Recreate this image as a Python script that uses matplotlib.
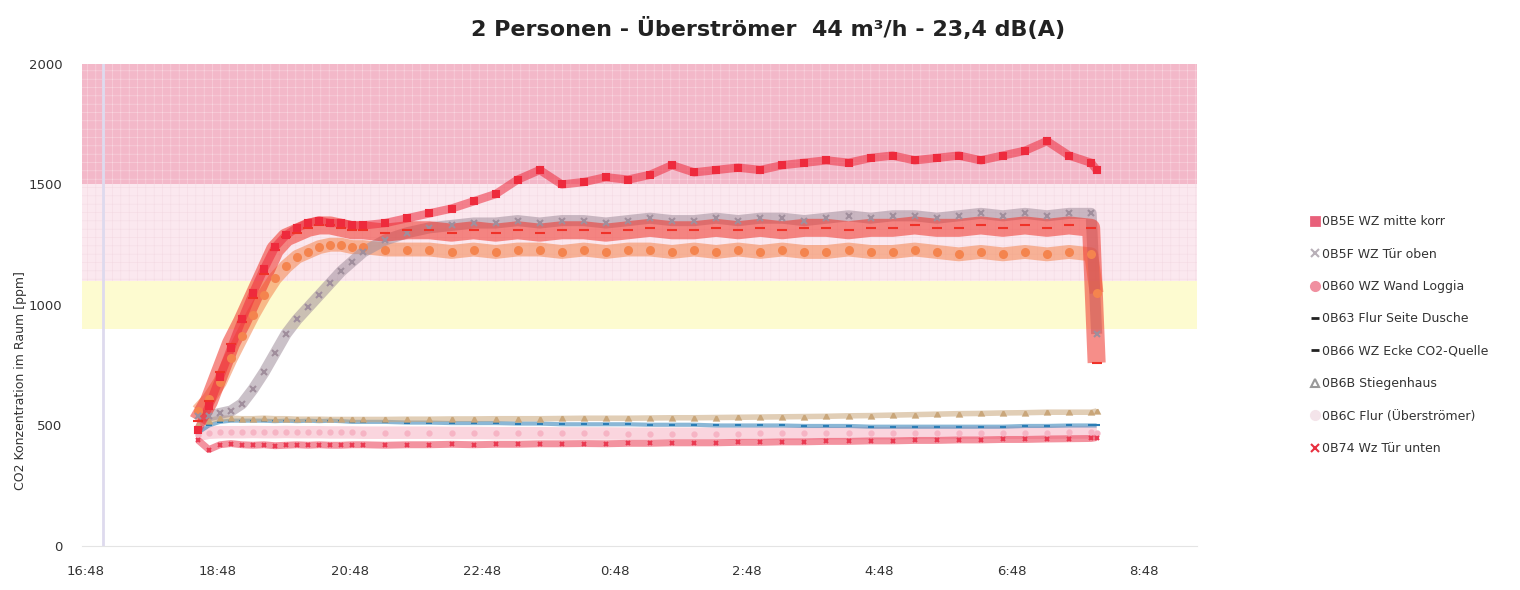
import matplotlib
matplotlib.use("Agg")
import matplotlib.pyplot as plt
from matplotlib.lines import Line2D

# sample times (evening -> next morning)
times = ["18:30", "18:40", "18:50", "19:00", "19:10", "19:20", "19:30", "19:40", "19:50", "20:00",
         "20:10", "20:20", "20:30", "20:40", "20:50", "21:00", "21:20", "21:40", "22:00", "22:20",
         "22:40", "23:00", "23:20", "23:40", "0:00", "0:20", "0:40", "1:00", "1:20", "1:40",
         "2:00", "2:20", "2:40", "3:00", "3:20", "3:40", "4:00", "4:20", "4:40", "5:00",
         "5:20", "5:40", "6:00", "6:20", "6:40", "7:00", "7:20", "7:40", "8:00", "8:05"]

# CO2 in ppm per sensor
wz_mitte = [480, 580, 700, 820, 940, 1050, 1150, 1240, 1290, 1320,
            1340, 1350, 1340, 1340, 1330, 1330, 1340, 1360, 1380, 1400,
            1430, 1460, 1520, 1560, 1500, 1510, 1530, 1520, 1540, 1580,
            1550, 1560, 1570, 1560, 1580, 1590, 1600, 1590, 1610, 1620,
            1600, 1610, 1620, 1600, 1620, 1640, 1680, 1620, 1590, 1560]
wz_tuer_oben = [540, 540, 550, 560, 590, 650, 720, 800, 880, 940,
                990, 1040, 1090, 1140, 1180, 1220, 1270, 1300, 1320, 1330,
                1340, 1340, 1350, 1340, 1350, 1350, 1340, 1350, 1360, 1350,
                1350, 1360, 1350, 1360, 1360, 1350, 1360, 1370, 1360, 1370,
                1370, 1360, 1370, 1380, 1370, 1380, 1370, 1380, 1380, 880]
wz_loggia = [560, 610, 680, 780, 870, 960, 1040, 1110, 1160, 1200,
             1220, 1240, 1250, 1250, 1240, 1240, 1230, 1230, 1230, 1220,
             1230, 1220, 1230, 1230, 1220, 1230, 1220, 1230, 1230, 1220,
             1230, 1220, 1230, 1220, 1230, 1220, 1220, 1230, 1220, 1220,
             1230, 1220, 1210, 1220, 1210, 1220, 1210, 1220, 1210, 1050]
flur_dusche = [470, 500, 515, 520, 520, 520, 520, 518, 520, 518,
               520, 518, 520, 518, 515, 515, 515, 512, 512, 510,
               510, 510, 508, 508, 505, 505, 505, 505, 503, 503,
               503, 500, 500, 500, 500, 498, 498, 498, 495, 495,
               495, 495, 495, 495, 495, 498, 498, 500, 500, 500]
wz_ecke = [520, 600, 720, 840, 930, 1030, 1130, 1230, 1280, 1300,
           1320, 1330, 1330, 1320, 1310, 1310, 1300, 1310, 1310, 1300,
           1310, 1300, 1310, 1300, 1310, 1310, 1300, 1310, 1320, 1310,
           1310, 1320, 1310, 1320, 1310, 1320, 1320, 1310, 1320, 1320,
           1330, 1320, 1320, 1330, 1320, 1330, 1320, 1330, 1320, 760]
stiegenhaus = [500, 520, 530, 530, 528, 528, 530, 528, 528, 526,
               526, 526, 525, 525, 525, 525, 525, 526, 526, 527,
               527, 528, 528, 528, 529, 530, 530, 530, 531, 532,
               532, 533, 534, 535, 536, 537, 538, 540, 541, 543,
               545, 547, 549, 550, 552, 553, 555, 555, 555, 560]
flur_ueber = [460, 470, 472, 472, 472, 473, 472, 472, 473, 472,
              472, 472, 471, 471, 471, 470, 470, 470, 470, 469,
              469, 468, 468, 468, 467, 467, 467, 466, 466, 466,
              466, 466, 466, 467, 467, 467, 468, 468, 468, 468,
              469, 469, 469, 470, 470, 470, 470, 471, 471, 470]
wz_tuer_unten = [440, 400, 420, 425, 420, 418, 420, 416, 418, 420,
                 418, 420, 418, 418, 420, 420, 418, 420, 420, 422,
                 420, 422, 422, 424, 424, 425, 424, 426, 426, 428,
                 428, 428, 430, 430, 432, 432, 434, 434, 436, 436,
                 438, 438, 440, 440, 442, 442, 444, 445, 446, 450]

labels = ["0B5E WZ mitte korr", "0B5F WZ Tür oben", "0B60 WZ Wand Loggia",
          "0B63 Flur Seite Dusche", "0B66 WZ Ecke CO2-Quelle", "0B6B Stiegenhaus",
          "0B6C Flur (Überströmer)", "0B74 Wz Tür unten"]
series = [wz_mitte, wz_tuer_oben, wz_loggia, flur_dusche, wz_ecke,
          stiegenhaus, flur_ueber, wz_tuer_unten]

tick_labels = ["16:48", "18:48", "20:48", "22:48", "0:48", "2:48", "4:48", "6:48", "8:48"]


def to_hours(t):
    hh, mm = t.split(":")
    h = int(hh) + int(mm) / 60
    if h < 12:
        h += 24
    return h


x = [to_hours(t) for t in times]
ticks = [to_hours(t) for t in tick_labels]

# style per series: color, marker, band width, marker size
styles = [
    ("#ee2a3c", "s", 6, 4),
    ("#a08e9c", "x", 8, 5),
    ("#f4844e", "o", 10, 5),
    ("#2b7db5", "_", 3, 5),
    ("#f03228", "_", 13, 7),
    ("#c9a67a", "^", 4, 3),
    ("#f6b4c4", "o", 9, 3),
    ("#ea3a52", "x", 5, 3),
]
legend_colors = ["#e8607a", "#b8b0b8", "#f090a0", "#222222", "#222222",
                 "#999999", "#f4e4ea", "#e83040"]

plt.rcParams["hatch.linewidth"] = 0.4
fig = plt.figure(figsize=(15.2, 5.9), dpi=100)
ax = fig.add_axes([0.054, 0.0746, 0.7335, 0.817])

# comfort bands in the background
ax.axhspan(1500, 2000, facecolor="#f3b8c9", edgecolor="#f9d6e0", hatch="++", lw=0, zorder=0)
ax.axhspan(1100, 1500, facecolor="#fbe8ef", edgecolor="#f4dbe4", hatch="++", lw=0, zorder=0)
ax.axhspan(900, 1100, facecolor="#fdfbd0", lw=0, zorder=0)
ax.axvline(to_hours("17:04"), color="#dedaee", lw=2, zorder=1)

order = [6, 7, 3, 5, 2, 1, 4, 0]
for i in order:
    c, m, lw, ms = styles[i]
    ax.plot(x, series[i], color=c, lw=lw, alpha=0.55, solid_capstyle="butt", zorder=2)
    ax.plot(x, series[i], ls="none", marker=m, color=c, ms=ms, mew=1.5, zorder=3)

ax.set_xlim(16.75, 33.6)
ax.set_ylim(0, 2000)
ax.set_xticks(ticks)
ax.set_xticklabels(tick_labels)
ax.set_yticks([0, 500, 1000, 1500, 2000])
ax.tick_params(length=0, labelsize=9.5, colors="#333333")
ax.tick_params(axis="x", pad=14)
ax.tick_params(axis="y", pad=14)
for s in ["top", "right", "left"]:
    ax.spines[s].set_visible(False)
ax.spines["bottom"].set_color("#e4e4e4")

fig.text(0.0135, 0.355, "CO2 Konzentration im Raum [ppm]", rotation=90,
         ha="center", va="center", fontsize=9, color="#333333")
fig.text(0.505, 0.952, "2 Personen - Überströmer  44 m³/h - 23,4 dB(A)",
         ha="center", va="center", fontsize=16, fontweight="bold", color="#222222")

handles = []
for i, lab in enumerate(labels):
    m = styles[i][1]
    handles.append(Line2D([], [], ls="none", marker=m, color=legend_colors[i],
                          ms=6, mew=1.5 if m in "x^" else 2,
                          mfc="none" if m == "^" else legend_colors[i], label=lab))
fig.legend(handles=handles, loc="center left", bbox_to_anchor=(0.855, 0.432),
           frameon=False, fontsize=9, labelspacing=1.55, handlelength=0.6,
           handletextpad=0.3, labelcolor="#333333")

fig.savefig("out.png", dpi=100)
